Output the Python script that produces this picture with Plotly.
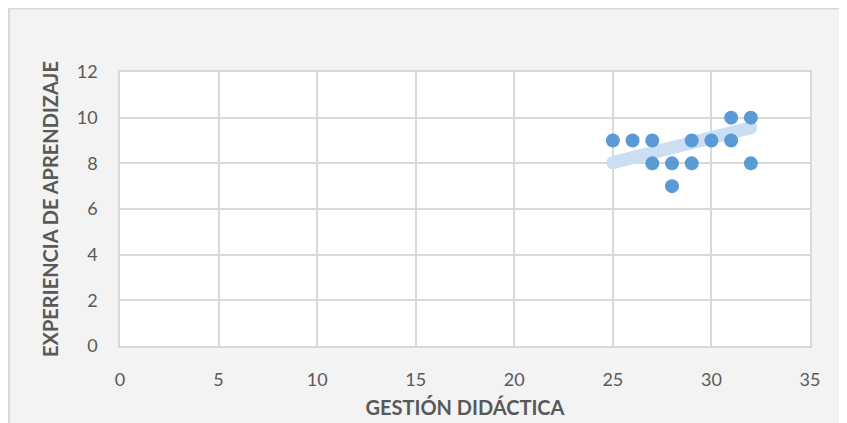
import plotly.graph_objects as go

# Data
gestion = [25, 26, 27, 27, 28, 28, 29, 29, 30, 31, 31, 32, 32]
experiencia = [9, 9, 9, 8, 8, 7, 8, 9, 9, 9, 10, 10, 8]
trend_x = [25, 32]
trend_y = [8.03, 9.56]

x_ticks = [0, 5, 10, 15, 20, 25, 30, 35]
y_ticks = [0, 2, 4, 6, 8, 10, 12]

font_family = "Lato, 'Open Sans', sans-serif"
grey = "#595959"
grid = "#d9d9d9"

fig = go.Figure()
fig.add_trace(go.Scatter(
    x=trend_x, y=trend_y, mode="lines+markers",
    line=dict(color="#CCDEF1", width=13),
    marker=dict(color="#CCDEF1", size=13, line=dict(width=0)),
    hoverinfo="skip", showlegend=False,
))
fig.add_trace(go.Scatter(
    x=gestion, y=experiencia, mode="markers",
    marker=dict(color="#5B9BD5", size=14, line=dict(width=0)),
    showlegend=False,
))

# outer chart frame and white plot area
fig.add_shape(type="rect", xref="paper", yref="paper",
              x0=-0.1609, x1=1.06, y0=-0.30, y1=1.232,
              fillcolor="#f3f3f3", line=dict(color=grid, width=2), layer="below")
fig.add_shape(type="rect", xref="x domain", yref="y domain",
              x0=0, x1=1, y0=0, y1=1,
              fillcolor="white", line=dict(width=0), layer="below")

fig.update_layout(
    width=839, height=415,
    margin=dict(l=112, r=37, t=64, b=77, autoexpand=False),
    paper_bgcolor="white",
    plot_bgcolor="white",
    font=dict(family=font_family, color=grey, size=16),
)
fig.update_xaxes(
    range=[0, 35], tickvals=x_ticks, showgrid=True, gridcolor=grid, gridwidth=1.5,
    zeroline=False, showline=True, linecolor=grid, linewidth=1.5, mirror=True,
    automargin=False,
    ticks="", ticklen=0, ticklabelstandoff=17, tickfont=dict(size=18, color=grey),
    title=dict(text="<b>GESTIÓN DIDÁCTICA</b>", font=dict(size=20, color=grey), standoff=12),
)
fig.update_yaxes(
    range=[0, 12], tickvals=y_ticks, showgrid=True, gridcolor=grid, gridwidth=1.5,
    zeroline=False, showline=True, linecolor=grid, linewidth=1.5, mirror=True,
    automargin=False,
    ticks="", ticklen=0, ticklabelstandoff=17, tickfont=dict(size=18, color=grey),
    title=dict(text="<b>EXPERIENCIA DE APRENDIZAJE</b>", font=dict(size=20, color=grey), standoff=13),
)

fig.write_html("out.html")
